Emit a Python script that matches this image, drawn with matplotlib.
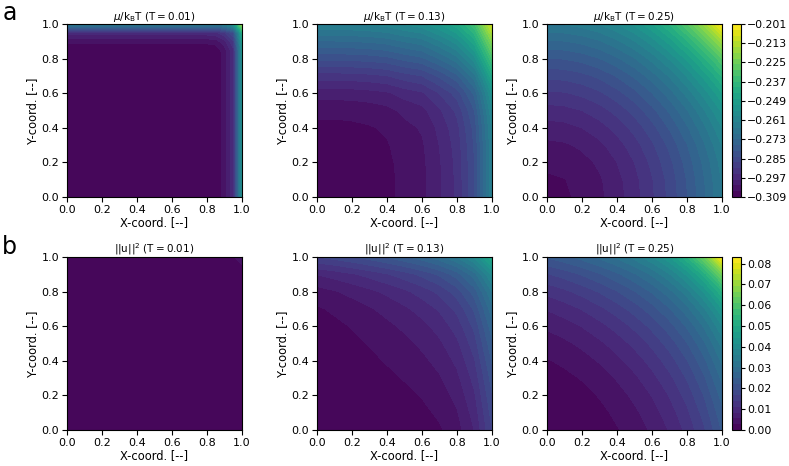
import numpy as np
import matplotlib.pyplot as plt
from matplotlib.ticker import FuncFormatter, MultipleLocator

# coordinates of the sampled grids
grid = [0.0, 0.1, 0.2, 0.3, 0.4, 0.5, 0.6, 0.7, 0.8, 0.9, 1.0]
grid_mu_001 = [0.0, 0.2, 0.4, 0.6, 0.8, 0.85, 0.9, 0.95, 1.0]
grid_u2_001 = [0.0, 0.2, 0.4, 0.6, 0.8, 1.0]
temps = ['0.01', '0.13', '0.25']

# chemical potential mu/kBT, rows = y, columns = x
mu_001 = [
    [-0.3090, -0.3090, -0.3090, -0.3090, -0.3090, -0.3085, -0.3041, -0.2960, -0.2550],
    [-0.3090, -0.3090, -0.3090, -0.3090, -0.3090, -0.3085, -0.3041, -0.2960, -0.2550],
    [-0.3090, -0.3090, -0.3090, -0.3090, -0.3090, -0.3085, -0.3041, -0.2960, -0.2550],
    [-0.3090, -0.3090, -0.3090, -0.3090, -0.3090, -0.3085, -0.3041, -0.2960, -0.2550],
    [-0.3090, -0.3090, -0.3090, -0.3090, -0.3090, -0.3085, -0.3041, -0.2960, -0.2550],
    [-0.3085, -0.3085, -0.3085, -0.3085, -0.3085, -0.3079, -0.3036, -0.2955, -0.2545],
    [-0.3041, -0.3041, -0.3041, -0.3041, -0.3041, -0.3036, -0.2993, -0.2913, -0.2508],
    [-0.2960, -0.2960, -0.2960, -0.2960, -0.2960, -0.2955, -0.2913, -0.2835, -0.2437],
    [-0.2658, -0.2658, -0.2658, -0.2658, -0.2658, -0.2653, -0.2614, -0.2541, -0.2172],
]
mu_013 = [
    [-0.3079, -0.3079, -0.3077, -0.3073, -0.3064, -0.3044, -0.3029, -0.2988, -0.2938, -0.2840, -0.2634],
    [-0.3079, -0.3079, -0.3077, -0.3073, -0.3064, -0.3044, -0.3029, -0.2988, -0.2938, -0.2840, -0.2634],
    [-0.3077, -0.3077, -0.3075, -0.3070, -0.3062, -0.3042, -0.3027, -0.2986, -0.2936, -0.2838, -0.2632],
    [-0.3073, -0.3073, -0.3070, -0.3066, -0.3057, -0.3038, -0.3023, -0.2981, -0.2931, -0.2833, -0.2626],
    [-0.3064, -0.3064, -0.3062, -0.3057, -0.3049, -0.3029, -0.3014, -0.2972, -0.2922, -0.2824, -0.2616],
    [-0.3044, -0.3044, -0.3042, -0.3038, -0.3029, -0.3009, -0.2994, -0.2952, -0.2901, -0.2802, -0.2592],
    [-0.3003, -0.3003, -0.3001, -0.2996, -0.2988, -0.2967, -0.2952, -0.2909, -0.2857, -0.2756, -0.2543],
    [-0.2927, -0.2927, -0.2925, -0.2920, -0.2911, -0.2890, -0.2874, -0.2830, -0.2776, -0.2672, -0.2451],
    [-0.2830, -0.2830, -0.2827, -0.2822, -0.2813, -0.2791, -0.2774, -0.2728, -0.2672, -0.2563, -0.2334],
    [-0.2732, -0.2732, -0.2729, -0.2724, -0.2714, -0.2692, -0.2674, -0.2626, -0.2568, -0.2455, -0.2216],
    [-0.2623, -0.2623, -0.2621, -0.2615, -0.2605, -0.2581, -0.2563, -0.2513, -0.2453, -0.2335, -0.2085],
]
mu_025 = [
    [-0.3063, -0.3059, -0.3047, -0.3027, -0.2998, -0.2962, -0.2917, -0.2865, -0.2804, -0.2735, -0.2658],
    [-0.3059, -0.3055, -0.3043, -0.3023, -0.2994, -0.2958, -0.2913, -0.2861, -0.2800, -0.2731, -0.2654],
    [-0.3047, -0.3043, -0.3031, -0.3011, -0.2982, -0.2946, -0.2901, -0.2849, -0.2788, -0.2719, -0.2642],
    [-0.3027, -0.3023, -0.3011, -0.2991, -0.2962, -0.2926, -0.2881, -0.2829, -0.2768, -0.2698, -0.2620],
    [-0.2998, -0.2994, -0.2982, -0.2962, -0.2933, -0.2897, -0.2852, -0.2798, -0.2736, -0.2666, -0.2587],
    [-0.2962, -0.2958, -0.2946, -0.2926, -0.2897, -0.2860, -0.2814, -0.2760, -0.2697, -0.2624, -0.2542],
    [-0.2917, -0.2913, -0.2901, -0.2881, -0.2851, -0.2814, -0.2767, -0.2711, -0.2645, -0.2568, -0.2481],
    [-0.2865, -0.2861, -0.2849, -0.2829, -0.2798, -0.2760, -0.2711, -0.2653, -0.2582, -0.2499, -0.2402],
    [-0.2804, -0.2800, -0.2788, -0.2767, -0.2736, -0.2697, -0.2645, -0.2582, -0.2504, -0.2411, -0.2300],
    [-0.2735, -0.2731, -0.2719, -0.2698, -0.2666, -0.2624, -0.2568, -0.2499, -0.2411, -0.2302, -0.2171],
    [-0.2658, -0.2654, -0.2642, -0.2620, -0.2587, -0.2542, -0.2481, -0.2402, -0.2300, -0.2171, -0.2010],
]

# squared velocity ||u||^2
u2_001 = [
    [0.00000, 0.00001, 0.00004, 0.00009, 0.00026, 0.00100],
    [0.00001, 0.00004, 0.00010, 0.00018, 0.00038, 0.00115],
    [0.00004, 0.00010, 0.00018, 0.00030, 0.00054, 0.00135],
    [0.00009, 0.00018, 0.00030, 0.00045, 0.00075, 0.00160],
    [0.00026, 0.00038, 0.00054, 0.00075, 0.00110, 0.00200],
    [0.00100, 0.00115, 0.00135, 0.00160, 0.00200, 0.00300],
]
u2_013 = [
    [0.00000, 0.00003, 0.00013, 0.00030, 0.00054, 0.00088, 0.00142, 0.00240, 0.00436, 0.00843, 0.01664],
    [0.00003, 0.00017, 0.00038, 0.00066, 0.00101, 0.00147, 0.00212, 0.00322, 0.00530, 0.00948, 0.01781],
    [0.00013, 0.00038, 0.00070, 0.00110, 0.00158, 0.00215, 0.00293, 0.00415, 0.00637, 0.01070, 0.01916],
    [0.00030, 0.00066, 0.00110, 0.00162, 0.00222, 0.00293, 0.00386, 0.00523, 0.00760, 0.01207, 0.02070],
    [0.00054, 0.00101, 0.00158, 0.00222, 0.00296, 0.00381, 0.00490, 0.00643, 0.00896, 0.01361, 0.02244],
    [0.00088, 0.00147, 0.00215, 0.00293, 0.00381, 0.00482, 0.00606, 0.00778, 0.01050, 0.01536, 0.02439],
    [0.00142, 0.00212, 0.00293, 0.00386, 0.00490, 0.00606, 0.00748, 0.00939, 0.01231, 0.01739, 0.02665],
    [0.00240, 0.00322, 0.00415, 0.00523, 0.00643, 0.00778, 0.00939, 0.01150, 0.01465, 0.01995, 0.02946],
    [0.00436, 0.00530, 0.00637, 0.00760, 0.00896, 0.01050, 0.01231, 0.01465, 0.01803, 0.02360, 0.03338],
    [0.00843, 0.00948, 0.01070, 0.01207, 0.01361, 0.01536, 0.01739, 0.01995, 0.02360, 0.02944, 0.03952],
    [0.01664, 0.01781, 0.01916, 0.02070, 0.02244, 0.02439, 0.02665, 0.02946, 0.03338, 0.03952, 0.04992],
]
u2_025 = [
    [0.00000, 0.00016, 0.00063, 0.00143, 0.00256, 0.00405, 0.00600, 0.00853, 0.01186, 0.01634, 0.02246],
    [0.00016, 0.00047, 0.00109, 0.00204, 0.00332, 0.00496, 0.00706, 0.00974, 0.01322, 0.01785, 0.02412],
    [0.00063, 0.00109, 0.00186, 0.00296, 0.00439, 0.00618, 0.00843, 0.01126, 0.01489, 0.01967, 0.02609],
    [0.00143, 0.00204, 0.00296, 0.00421, 0.00579, 0.00773, 0.01013, 0.01311, 0.01689, 0.02181, 0.02838],
    [0.00256, 0.00332, 0.00439, 0.00579, 0.00752, 0.00961, 0.01216, 0.01529, 0.01922, 0.02434, 0.03111],
    [0.00405, 0.00496, 0.00618, 0.00773, 0.00961, 0.01185, 0.01454, 0.01786, 0.02200, 0.02732, 0.03436],
    [0.00600, 0.00706, 0.00843, 0.01013, 0.01216, 0.01454, 0.01744, 0.02095, 0.02533, 0.03101, 0.03854],
    [0.00853, 0.00974, 0.01126, 0.01311, 0.01528, 0.01786, 0.02095, 0.02472, 0.02950, 0.03577, 0.04422],
    [0.01186, 0.01322, 0.01489, 0.01689, 0.01923, 0.02200, 0.02533, 0.02950, 0.03491, 0.04224, 0.05241],
    [0.01634, 0.01785, 0.01967, 0.02181, 0.02434, 0.02732, 0.03101, 0.03577, 0.04224, 0.05139, 0.06466],
    [0.02246, 0.02412, 0.02609, 0.02838, 0.03111, 0.03436, 0.03854, 0.04422, 0.05241, 0.06466, 0.08320],
]

rows = [
    {'grids': [grid_mu_001, grid, grid], 'fields': [mu_001, mu_013, mu_025],
     'title': r'$\mu/\mathrm{k_BT}\ (\mathrm{T = %s})$'},
    {'grids': [grid_u2_001, grid, grid], 'fields': [u2_001, u2_013, u2_025],
     'title': r'$||\mathrm{u}||^2\ (\mathrm{T = %s})$'},
]

W, H = 789, 466
fig = plt.figure(figsize=(W / 100, H / 100), dpi=100)

col_left = [67, 317, 547]
col_w = 175
row_top = [24, 257]
row_h = 173

def px_axes(x0, y0, w, h):
    return fig.add_axes([x0 / W, 1 - (y0 + h) / H, w / W, h / H])

def minus3(v, pos):
    return ('%.3f' % v).replace('-', '\u2212')

def minus2(v, pos):
    return ('%.2f' % v).replace('-', '\u2212')

for r, row in enumerate(rows):
    allv = np.concatenate([np.ravel(f) for f in row['fields']])
    lo, hi = allv.min(), allv.max()
    levels = np.linspace(lo, hi, 31)
    for c in range(3):
        ax = px_axes(col_left[c], row_top[r], col_w, row_h)
        g = row['grids'][c]
        X, Y = np.meshgrid(g, g)
        cs = ax.contourf(X, Y, np.array(row['fields'][c]), levels=levels, cmap='viridis')
        ax.set_xlim(0, 1)
        ax.set_ylim(0, 1)
        ax.set_xticks(np.arange(0, 1.01, 0.2))
        ax.set_yticks(np.arange(0, 1.01, 0.2))
        ax.tick_params(labelsize=8, length=3.5, pad=2)
        ax.set_xlabel('X-coord. [--]', fontsize=8.3, labelpad=1)
        ax.set_ylabel('Y-coord. [--]', fontsize=8.3, labelpad=2)
        ax.set_title(row['title'] % temps[c], fontsize=7.5, pad=3)
    cax = px_axes(732, row_top[r], 9, row_h)
    if r == 0:
        cb = fig.colorbar(cs, cax=cax, ticks=np.linspace(lo, hi, 10),
                          format=FuncFormatter(minus3))
    else:
        cb = fig.colorbar(cs, cax=cax, ticks=MultipleLocator(0.01),
                          format=FuncFormatter(minus2))
    cb.ax.tick_params(labelsize=7.8, length=3, pad=1.5)

fig.text(0.003, 0.972, 'a', fontsize=17, va='center', ha='left')
fig.text(0.003, 0.470, 'b', fontsize=17, va='center', ha='left')

fig.savefig('out.png', dpi=100)
